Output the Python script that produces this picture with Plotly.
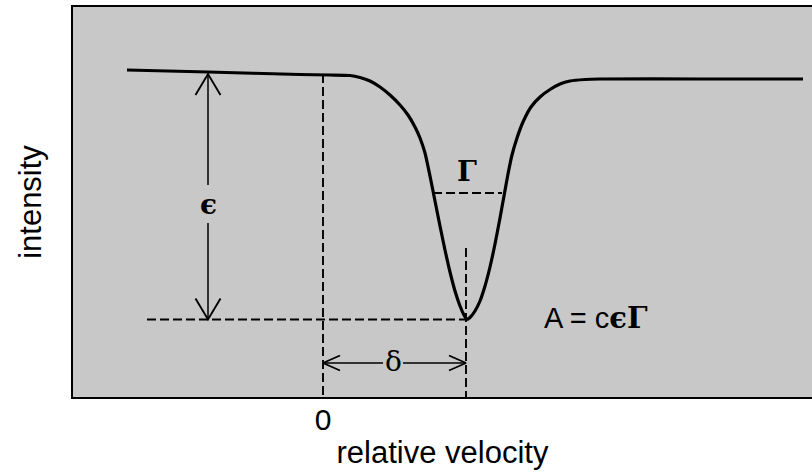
import plotly.graph_objects as go

# Absorption line profile (velocity and intensity in arbitrary units)
velocity = [-1.96, -1.15, -0.23, 0.07, 0.27, 0.37, 0.47, 0.57, 0.67, 0.77, 0.85,
            0.92, 0.97, 1.02, 1.07, 1.12, 1.17, 1.22, 1.27, 1.32, 1.37, 1.41,
            1.44, 1.47, 1.52, 1.57, 1.62, 1.67, 1.72, 1.77, 1.81, 1.85, 1.89,
            1.94, 2.00, 2.08, 2.17, 2.27, 2.37, 2.47, 2.62, 2.77, 3.77, 4.80]
intensity = [3.27, 3.25, 3.225, 3.22, 3.215, 3.195, 3.16, 3.10, 3.02, 2.92, 2.82,
             2.70, 2.59, 2.44, 2.21, 1.96, 1.71, 1.47, 1.25, 1.06, 0.91, 0.82,
             0.775, 0.795, 0.86, 0.96, 1.11, 1.30, 1.53, 1.79, 2.01, 2.23, 2.42,
             2.59, 2.75, 2.90, 3.00, 3.075, 3.13, 3.16, 3.175, 3.18, 3.18, 3.18]

# Characteristic quantities of the line
delta = 1.43            # line shift from zero velocity
baseline = 3.23         # off-resonance intensity
line_min = 0.775        # intensity at line centre
half_level = 2.04       # half-depth level
half_left, half_right = 1.10, 1.79   # edges of the full width Γ
eps_x = -1.15           # position of the depth (ε) marker
eps_gap = (1.74, 2.12)  # gap in the ε arrow for its label
delta_y = 0.34          # height of the δ marker
delta_gap = (0.60, 0.80)

x_ticks = [0]
x_tick_text = ["0"]

ink = "black"
dash = "9px,4px"

fig = go.Figure()


def seg(xs, ys, width, dash_style=None, shape="linear"):
    fig.add_trace(go.Scatter(x=xs, y=ys, mode="lines", hoverinfo="skip",
                             line=dict(color=ink, width=width, dash=dash_style,
                                       shape=shape, smoothing=0.6)))


def chevron(tx, ty, dx, dy, length, half):
    # open "V" arrowhead pointing along (dx, dy) with its tip at (tx, ty)
    bx, by = tx - dx * length, ty - dy * length
    px, py = -dy * half, dx * half
    seg([bx + px, tx, bx - px], [by + py, ty, by - py], 1.9)


# the profile itself
seg(velocity, intensity, 3.2, shape="spline")

# dashed guide lines
seg([0, 0], [baseline, 0], 1.9, dash)
seg([delta, delta], [1.49, 0], 1.9, dash)
seg([-1.76, delta], [line_min, line_min], 1.9, dash)
seg([half_left, half_right], [half_level, half_level], 1.9, dash)

# ε: depth of the line
seg([eps_x, eps_x], [baseline, eps_gap[1]], 1.5)
seg([eps_x, eps_x], [eps_gap[0], line_min], 1.5)
chevron(eps_x, baseline, 0, 1, 0.21, 0.125)
chevron(eps_x, line_min, 0, -1, 0.21, 0.125)

# δ: shift of the line
seg([0, delta_gap[0]], [delta_y, delta_y], 1.5)
seg([delta_gap[1], delta], [delta_y, delta_y], 1.5)
chevron(0, delta_y, -1, 0, 0.17, 0.075)
chevron(delta, delta_y, 1, 0, 0.17, 0.075)

serif = "DejaVu Serif"
annotations = [
    dict(x=eps_x, y=1.925, text="<b>ϵ</b>", showarrow=False,
         font=dict(family=serif, size=28, color=ink)),
    dict(x=0.70, y=delta_y + 0.02, text="δ", showarrow=False,
         font=dict(family=serif, size=28, color=ink)),
    dict(x=1.44, y=2.26, text="<b>Γ</b>", showarrow=False,
         font=dict(family=serif, size=28, color=ink)),
    dict(x=2.73, y=0.79, showarrow=False,
         text="A = c<span style='font-family:DejaVu Serif'><b>ϵΓ</b></span>",
         font=dict(family="Liberation Sans", size=29, color=ink)),
]

fig.update_layout(
    width=812, height=472,
    margin=dict(l=73, r=0, t=7, b=75),
    paper_bgcolor="white",
    plot_bgcolor="#c8c8c8",
    showlegend=False,
    font=dict(family="Liberation Sans", size=31, color=ink),
    annotations=annotations,
    xaxis=dict(range=[-2.5, 4.89], showgrid=False, zeroline=False,
               showline=True, mirror=True, linecolor=ink, linewidth=2,
               tickvals=x_ticks, ticktext=x_tick_text, ticks="",
               tickfont=dict(size=30), ticklabelstandoff=-5,
               title=dict(text="relative velocity", standoff=6,
                          font=dict(size=31))),
    yaxis=dict(range=[0, 3.9], showgrid=False, zeroline=False,
               showline=True, mirror=False, linecolor=ink, linewidth=2,
               showticklabels=False, ticks="",
               title=dict(text="intensity", standoff=20,
                          font=dict(size=31))),
)

fig.write_html("out.html")
